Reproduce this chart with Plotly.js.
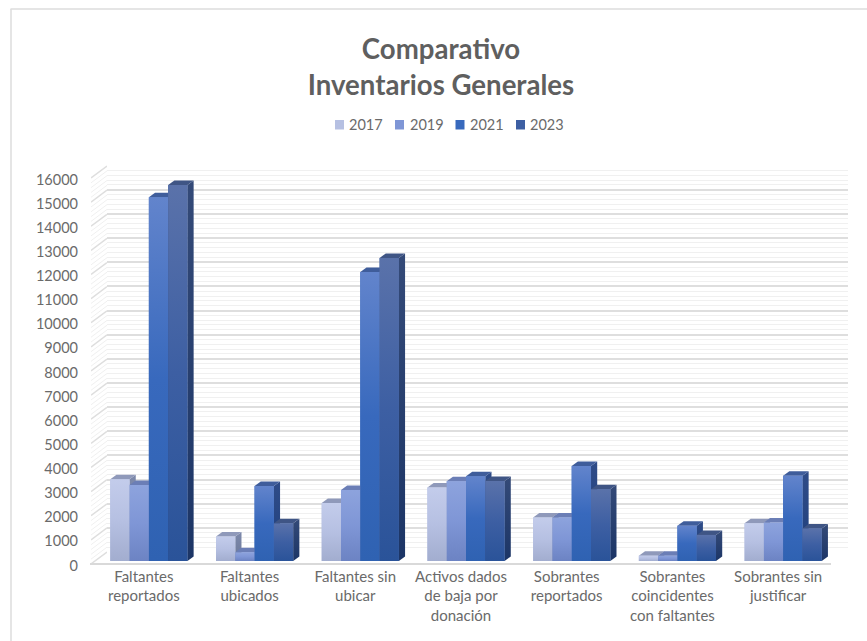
<!DOCTYPE html>
<html>
<head>
<meta charset="utf-8">
<script src="https://cdn.plot.ly/plotly-3.0.1.min.js"></script>
<style>html,body{margin:0;padding:0;background:#fff}</style>
</head>
<body>
<div id="chart" style="width:867px;height:641px"></div>
<script>
const categories = ["Faltantes<br>reportados","Faltantes<br>ubicados","Faltantes sin<br>ubicar","Activos dados<br>de baja por<br>donación","Sobrantes<br>reportados","Sobrantes<br>coincidentes<br>con faltantes","Sobrantes sin<br>justificar"];
const years = ["2017","2019","2021","2023"];
const v2017 = [3380,1010,2400,3040,1800,220,1560];
const v2019 = [3150,360,2940,3300,1800,220,1590];
const v2021 = [15060,3110,11970,3510,3930,1460,3530];
const v2023 = [15570,1560,12550,3310,2970,1080,1350];
const seriesValues = [v2017,v2019,v2021,v2023];
const yTicks = [0,1000,2000,3000,4000,5000,6000,7000,8000,9000,10000,11000,12000,13000,14000,15000,16000];

const frontTop    = ["#c3cceb","#8da3dd","#6284cc","#5a72aa"];
const frontMid    = ["#b6c0e2","#7f96d6","#3869bd","#3d5fa3"];
const frontBottom = ["#a2adcf","#6c83c3","#2f62b2","#2a5399"];
const sideTop     = ["#7d89ab","#6579b2","#2f4c88","#344a78"];
const sideBottom  = ["#6b7899","#5068a8","#1f3f7c","#1c3566"];
const topFace     = ["#8f99ba","#6b7eb6","#3f5d9b","#3f5585"];

const W = 867, H = 641;
const px = p => p / W;
const py = p => 1 - p / H;
const idx = categories.map((_, i) => i);

// pixel frame of the 3D look
const barScale = 0.02415, labelScale = 0.024125;
const barBase = 561, barTop = 150, labelBase = 565.5, floorY = 564, wallBase = 552;
const catW = 740 / 7;
const gap = 0.27, barW = (1 - gap) / 4;
const depthX = 6.2 / catW, depthY = 4.5 / barScale;
const wallRise = 12 / labelScale, wallShift = (labelBase - floorY) / labelScale;

const traces = [];

// back wall (own axes, only the grid is shown)
traces.push({type:"scatter",mode:"lines",x:[0,1],y:[0,16000],xaxis:"x",yaxis:"y",line:{width:0,color:"rgba(0,0,0,0)"},hoverinfo:"skip",showlegend:false});
// floor and labels
traces.push({type:"scatter",mode:"lines",x:[-0.5,6.5],y:[0,0],xaxis:"x2",yaxis:"y2",line:{width:0,color:"rgba(0,0,0,0)"},hoverinfo:"skip",showlegend:false});

// side wall
const sideMajX=[],sideMajY=[],sideMinX=[],sideMinY=[];
yTicks.forEach((t,k)=>{
  sideMajX.push(0,1,null); sideMajY.push(t+wallShift,t+wallShift+wallRise,null);
  if(k<yTicks.length-1) for(let m=1;m<5;m++){ const u=t+m*200+wallShift; sideMinX.push(0,1,null); sideMinY.push(u,u+wallRise,null); }
});
traces.push({type:"scatter",mode:"lines",x:sideMinX,y:sideMinY,xaxis:"x3",yaxis:"y2",line:{width:1,color:"#f0f0f0"},hoverinfo:"skip",showlegend:false});
traces.push({type:"scatter",mode:"lines",x:sideMajX,y:sideMajY,xaxis:"x3",yaxis:"y2",line:{width:1.5,color:"#dedede"},hoverinfo:"skip",showlegend:false});

// real bars
years.forEach((yr,s)=>{
  traces.push({type:"bar",name:yr,x:idx,y:seriesValues[s],xaxis:"x4",yaxis:"y4",marker:{color:frontMid[s],line:{width:0}},showlegend:false});
});

// shaded faces computed from the same values
function face(xs,ys,grad,fill){
  const t={type:"scatter",mode:"lines",x:xs,y:ys,xaxis:"x4",yaxis:"y4",fill:"toself",line:{width:0,color:"rgba(0,0,0,0)"},hoverinfo:"skip",showlegend:false};
  if(grad) t.fillgradient=grad; else t.fillcolor=fill;
  return t;
}
years.forEach((yr,s)=>{
  seriesValues[s].forEach((v,i)=>{
    const xl=i-0.5+gap/2+s*barW, xr=xl+barW;
    traces.push(face([xr,xr+depthX,xr+depthX,xr,xr],[v,v+depthY,depthY,0,v],
      {type:"vertical",start:0,stop:v+depthY,colorscale:[[0,sideBottom[s]],[1,sideTop[s]]]}));
    traces.push(face([xl,xr,xr+depthX,xl+depthX,xl],[v,v,v+depthY,v+depthY,v],null,topFace[s]));
    traces.push(face([xl,xr,xr,xl,xl],[0,0,v,v,0],
      {type:"vertical",start:0,stop:v,colorscale:[[0,frontBottom[s]],[0.5,frontMid[s]],[1,frontTop[s]]]}));
  });
});

// legend
const legendSquareX=[335,395,455.5,516];
const legendTextX=[347,408,468,528];
const annotations=years.map((yr,s)=>({text:yr,xref:"paper",yref:"paper",x:px(legendTextX[s]),y:py(124),xanchor:"left",yanchor:"middle",showarrow:false,font:{family:"Lato",size:14.5,color:"#6a6a6a"}}));
const shapes=years.map((yr,s)=>({type:"rect",xref:"paper",yref:"paper",x0:px(legendSquareX[s]),x1:px(legendSquareX[s]+9),y0:py(129.5),y1:py(120),line:{width:0},fillcolor:frontMid[s]}));
// chart frame
shapes.push({type:"line",xref:"paper",yref:"paper",x0:px(10.5),x1:1,y0:py(9),y1:py(9),line:{color:"#dddddd",width:1.5}});
shapes.push({type:"line",xref:"paper",yref:"paper",x0:px(11),x1:px(11),y0:py(9),y1:0,line:{color:"#dddddd",width:1.5}});
// floor
shapes.push({type:"line",xref:"paper",yref:"paper",x0:px(90),x1:px(831),y0:py(floorY),y1:py(floorY),line:{color:"#d9d9d9",width:2}});

const hidden={showgrid:false,zeroline:false,showline:false,showticklabels:false,ticks:""};
const layout={
  width:W,height:H,margin:{l:0,r:0,t:0,b:0,pad:0},
  paper_bgcolor:"#ffffff",plot_bgcolor:"rgba(0,0,0,0)",
  showlegend:false,barmode:"group",bargap:gap,bargroupgap:0,
  title:{text:"Comparativo<br>Inventarios Generales",x:px(441),xanchor:"center",y:py(59),yanchor:"top",font:{family:"Lato",size:27.6,color:"#5f5f5f",weight:700}},
  annotations,shapes,
  xaxis:Object.assign({},hidden,{domain:[px(107),px(848)],range:[0,1],anchor:"y"}),
  yaxis:{domain:[py(wallBase),py(wallBase-16000*barScale)],range:[0,16000],anchor:"x",zeroline:false,showline:false,showticklabels:false,ticks:"",
    showgrid:true,tickmode:"linear",tick0:0,dtick:1000,gridcolor:"#dedede",gridwidth:1.5,
    minor:{showgrid:true,dtick:200,tick0:0,gridcolor:"#f0f0f0",gridwidth:1.2}},
  xaxis2:{domain:[px(91),px(831)],range:[-0.5,6.5],anchor:"y2",tickmode:"array",tickvals:idx,ticktext:categories,showgrid:false,zeroline:false,
    showline:false,ticks:"",ticklabelstandoff:10.7,tickangle:0,tickfont:{family:"Lato",size:15,color:"#6a6a6a"}},
  yaxis2:{domain:[py(labelBase),py(150)],range:[0,(labelBase-150)/labelScale],anchor:"x2",tickmode:"array",tickvals:yTicks,ticktext:yTicks.map(String),showgrid:false,zeroline:false,showline:false,
    ticks:"",ticklabelstandoff:12,tickfont:{family:"Lato",size:14.5,color:"#6a6a6a"}},
  xaxis3:Object.assign({},hidden,{domain:[px(91),px(107)],range:[0,1],anchor:"y2"}),
  xaxis4:Object.assign({},hidden,{domain:[px(96),px(836)],range:[-0.5,6.5],anchor:"y4"}),
  yaxis4:Object.assign({},hidden,{domain:[py(barBase),py(barTop)],range:[0,(barBase-barTop)/barScale],anchor:"x4"})
};
Plotly.newPlot("chart",traces,layout,{displayModeBar:false,responsive:false});
</script>
</body>
</html>
